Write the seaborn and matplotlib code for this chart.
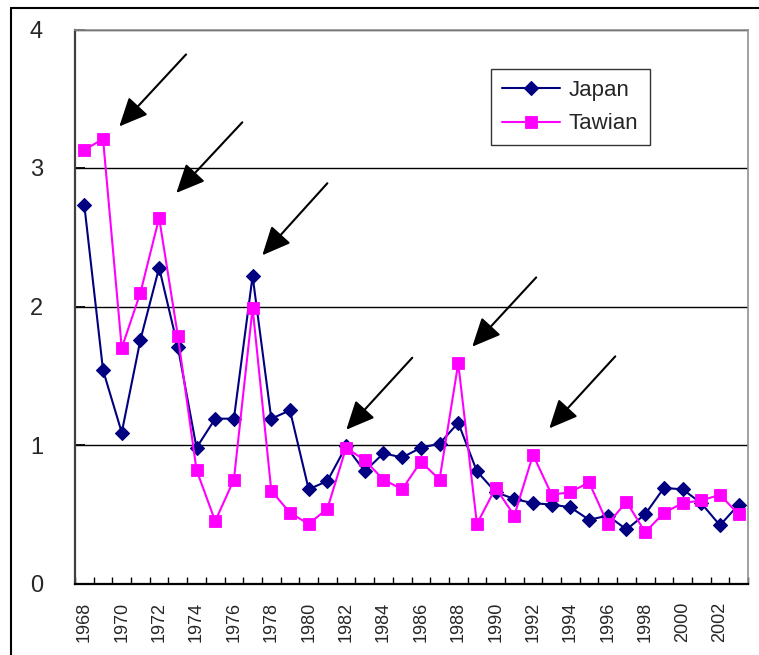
import numpy as np
import pandas as pd
import matplotlib
matplotlib.use("Agg")
import matplotlib.pyplot as plt
import seaborn as sns
from matplotlib.lines import Line2D

years = list(range(1968, 2004))
japan = [2.73, 1.54, 1.09, 1.76, 2.28, 1.71, 0.98, 1.19, 1.19, 2.22, 1.19, 1.25, 0.68,
         0.74, 0.99, 0.81, 0.94, 0.91, 0.98, 1.01, 1.16, 0.81, 0.66,
         0.61, 0.58, 0.57, 0.55, 0.46, 0.49, 0.39, 0.50, 0.69, 0.68, 0.58, 0.42, 0.57]
tawian = [3.13, 3.21, 1.70, 2.10, 2.64, 1.79, 0.82, 0.45, 0.75, 1.99, 0.67, 0.51, 0.43,
          0.54, 0.98, 0.89, 0.75, 0.68, 0.88, 0.75, 1.59, 0.43, 0.69,
          0.49, 0.93, 0.64, 0.66, 0.73, 0.43, 0.59, 0.37, 0.51, 0.58, 0.60, 0.64, 0.50]
x_tick_labels = [str(y) for y in range(1968, 2003, 2)]
y_ticks = [0, 1, 2, 3, 4]

# arrows: (tail, head) in data coordinates
arrows = [((1973.44, 3.82), (1969.87, 3.30)),
          ((1976.45, 3.33), (1972.92, 2.82)),
          ((1981.00, 2.89), (1977.52, 2.37)),
          ((1985.54, 1.63), (1982.01, 1.11)),
          ((1992.17, 2.21), (1988.75, 1.71)),
          ((1996.40, 1.64), (1992.87, 1.12))]

df = pd.DataFrame({"year": years, "Japan": japan, "Tawian": tawian})

sns.set_theme(style="white")
plt.rcParams["font.family"] = ["Liberation Sans", "DejaVu Sans"]

fig = plt.figure(figsize=(7.59, 6.55), dpi=100)
ax = fig.add_axes([75 / 759, 1 - 583.5 / 655, 673 / 759, 554 / 655])

navy = "#000080"
magenta = "#FF00FF"
sns.lineplot(data=df, x="year", y="Japan", ax=ax, color=navy, marker="D",
             markersize=7.5, markeredgecolor=navy, markeredgewidth=0.8,
             linewidth=1.5, label="Japan", zorder=3)
sns.lineplot(data=df, x="year", y="Tawian", ax=ax, color=magenta, marker="s",
             markersize=8.3, markeredgecolor=magenta, markeredgewidth=0.6,
             linewidth=1.5, label="Tawian", zorder=3)

ax.set_xlim(1967.5, 2003.5)
ax.set_ylim(0, 4)
ax.set_xlabel("")
ax.set_ylabel("")

ax.set_yticks(y_ticks)
ax.set_yticklabels([str(v) for v in y_ticks], fontsize=17)
ax.tick_params(axis="y", direction="in", length=7, width=1.3, color="black",
               pad=23, left=True)

ax.set_xticks([int(s) for s in x_tick_labels])
ax.set_xticklabels(x_tick_labels, rotation=90, fontsize=13)
ax.set_xticks(np.arange(1967.5, 2004, 1), minor=True)
ax.tick_params(axis="x", which="major", length=0, pad=13)
ax.tick_params(axis="x", which="minor", direction="in", length=5, width=1,
               color="black", bottom=True)

ax.yaxis.grid(True, color="black", linewidth=1)
ax.xaxis.grid(False)
ax.set_axisbelow(True)

for side, col, lw in [("left", "#404040", 1.6), ("bottom", "black", 1.6),
                      ("top", "#909090", 1.2), ("right", "#909090", 1.2)]:
    ax.spines[side].set_visible(True)
    ax.spines[side].set_color(col)
    ax.spines[side].set_linewidth(lw)

for tail, head in arrows:
    ax.annotate("", xy=head, xytext=tail,
                arrowprops=dict(arrowstyle="-|>,head_length=0.7,head_width=0.32",
                                color="black", lw=1.5, mutation_scale=25,
                                shrinkA=0, shrinkB=0))

leg = ax.legend(loc="upper left", bbox_to_anchor=((491 - 75) / 673, 1 - (69 - 29.5) / 554),
                borderaxespad=0, fontsize=16, frameon=True, fancybox=False,
                edgecolor="black", handlelength=2.6, handletextpad=0.4,
                labelspacing=0.55, borderpad=0.5, markerscale=1.0)
leg.get_frame().set_linewidth(1.0)

# outer frame (left and top edges visible)
fig.add_artist(Line2D([11 / 759, 11 / 759], [0, 1 - 8 / 655], transform=fig.transFigure,
                      color="black", linewidth=1.5))
fig.add_artist(Line2D([11 / 759, 1], [1 - 8 / 655, 1 - 8 / 655], transform=fig.transFigure,
                      color="black", linewidth=1.5))

fig.savefig("out.png", dpi=100)
